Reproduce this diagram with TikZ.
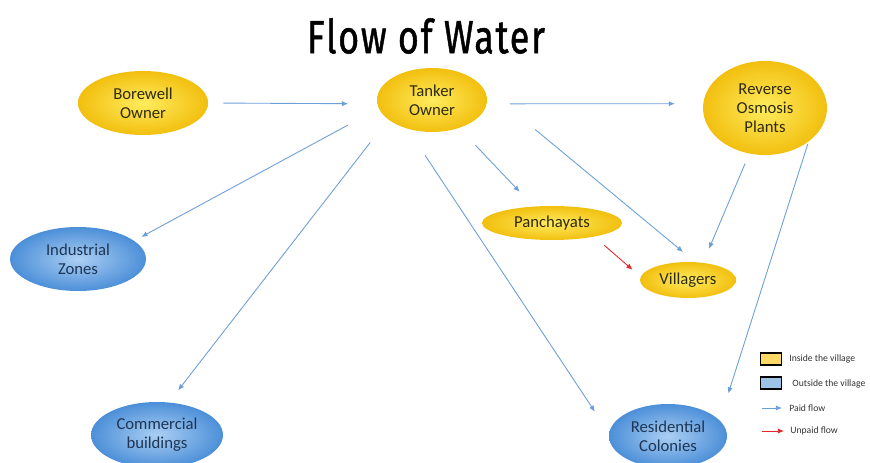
\documentclass[tikz,border=0pt]{standalone}
\usepackage{graphicx}
\usepackage{fontspec}
\setmainfont{Carlito}
\newfontfamily\titlefont[FakeBold=1.2,LetterSpace=5]{Fira Sans}
\usetikzlibrary{shapes.geometric,arrows.meta}
\definecolor{yelin}{HTML}{FFEC5E}
\definecolor{yelout}{HTML}{F2BF0F}
\definecolor{yeltext}{HTML}{2E2A10}
\definecolor{bluin}{HTML}{ABCFF3}
\definecolor{bluout}{HTML}{4C8FD8}
\definecolor{blutext}{HTML}{1E3554}
\definecolor{flowblue}{HTML}{6C9FD8}
\definecolor{flowred}{HTML}{E3262B}
\definecolor{yelbox}{HTML}{FFD966}
\definecolor{blubox}{HTML}{9DC3E6}
\begin{document}
\begin{tikzpicture}[x=0.02cm, y=-0.02cm, font=\fontsize{9.5}{10.8}\selectfont,
  inside/.style={ellipse, shading=radial, inner color=yelin, outer color=yelout, text=yeltext, align=center, inner sep=0pt},
  outside/.style={ellipse, shading=radial, inner color=bluin, outer color=bluout, text=blutext, align=center, inner sep=0pt},
  paid/.style={draw=flowblue, line width=0.5pt, -{Latex[length=3.5pt,width=3pt]}},
  unpaid/.style={paid, draw=flowred},
  keybox/.style={draw=black, line width=0.8pt, minimum width=0.42cm, minimum height=0.24cm, inner sep=0pt},
  keytext/.style={anchor=west, inner sep=0pt, text=black!80, font=\fontsize{5.5}{6}\selectfont}]
\useasboundingbox (0,0) rectangle (870,463);

\node[inner sep=0pt] (title) at (426,36) {\titlefont\resizebox{4.76cm}{0.70cm}{Flow of Water}};

\node[inside, minimum width=2.6cm, minimum height=1.28cm] (bore) at (143,103) {Borewell\\Owner};
\node[inside, minimum width=2.2cm, minimum height=1.28cm] (tank) at (432,100) {Tanker\\Owner};
\node[inside, minimum width=2.48cm, minimum height=1.88cm] (rho) at (765,108) {Reverse\\Osmosis\\Plants};
\node[inside, minimum width=2.8cm, minimum height=0.68cm] (pan) at (552,223) {Panchayats};
\node[inside, minimum width=1.92cm, minimum height=0.72cm] (vil) at (688,280) {Villagers};
\node[outside, minimum width=2.72cm, minimum height=1.28cm] (ind) at (78,259) {Industrial\\Zones};
\node[outside, minimum width=2.64cm, minimum height=1.32cm] (com) at (157,435) {Commercial\\buildings};
\node[outside, minimum width=2.36cm, minimum height=1.28cm] (res) at (668,436) {Residential\\Colonies};

\draw[paid, shorten <=0.30cm, shorten >=0.58cm] (bore.east) -- (tank.184);
\draw[paid, shorten <=0.46cm, shorten >=0.56cm] (tank.-4) -- (rho.176);
\draw[paid, shorten <=0.70cm, shorten >=0.16cm] (tank.189) -- (ind.18);
\draw[paid, shorten <=0.58cm, shorten >=0.30cm] (tank.204) -- (com.70);
\draw[paid, shorten <=0.63cm, shorten >=0.51cm] (tank.230) -- (res.177);
\draw[paid, shorten <=0.47cm, shorten >=0.40cm] (tank.-46) -- (pan.138);
\draw[paid, shorten <=1.46cm, shorten >=0.31cm] (tank.20) -- (vil.69);
\draw[paid, shorten <=0.21cm, shorten >=0.30cm] (rho.251) -- (vil.49);
\draw[paid, shorten <=0.04cm, shorten >=0.56cm] (rho.-38) -- (res.17);
\draw[unpaid, shorten <=0.26cm, shorten >=0.21cm] (pan.-18) -- (vil.176);

\node[keybox, fill=yelbox] (keyin) at (771,359) {};
\node[keytext] (keyintext) at (789,359) {Inside the village};
\node[keybox, fill=blubox] (keyout) at (771,383) {};
\node[keytext] (keyouttext) at (792,384) {Outside the village};
\coordinate (paidfrom) at (762,408);
\coordinate (paidto) at (782,408);
\draw[paid] (paidfrom) -- (paidto);
\node[keytext] (paidtext) at (789,408) {Paid flow};
\coordinate (unpaidfrom) at (762,431);
\coordinate (unpaidto) at (784,431);
\draw[unpaid] (unpaidfrom) -- (unpaidto);
\node[keytext] (unpaidtext) at (790,431) {Unpaid flow};
\end{tikzpicture}
\end{document}
